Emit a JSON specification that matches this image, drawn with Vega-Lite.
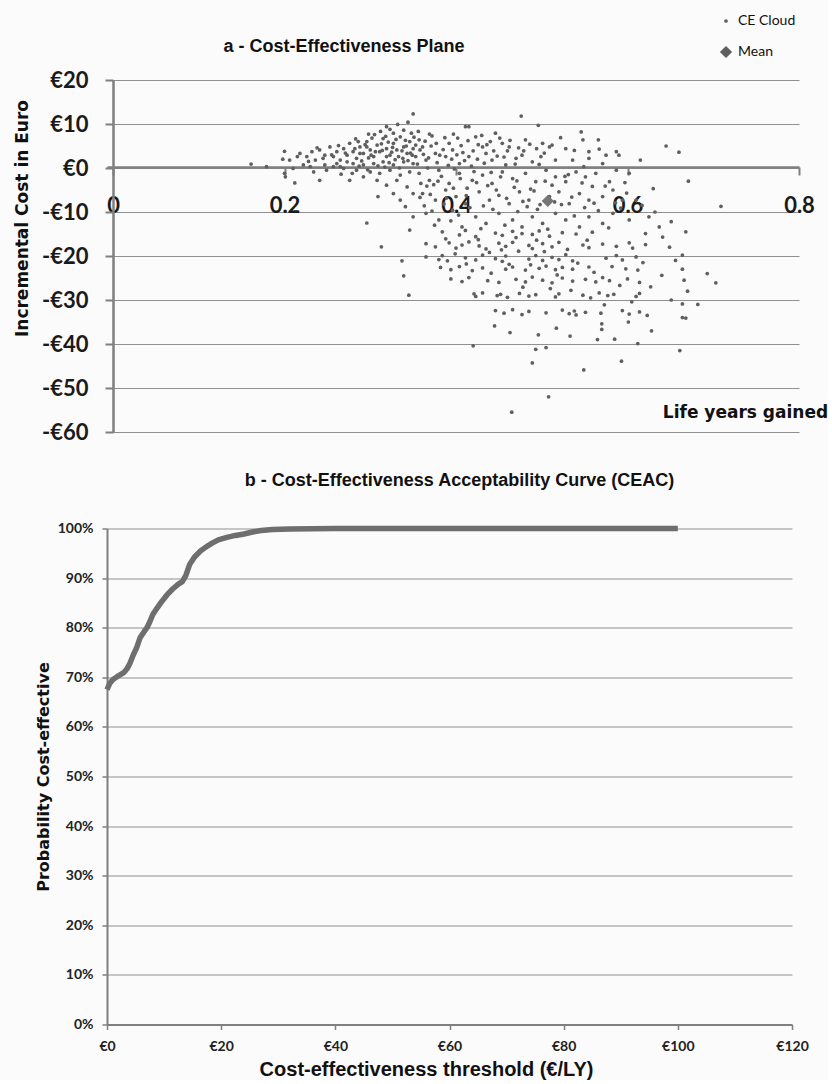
{
"$schema": "https://vega.github.io/schema/vega-lite/v6.json",
"background": "#fbfbfb",
"padding": {"left": 13, "top": 14, "right": 0, "bottom": 0},
"autosize": {"type": "pad"},
"spacing": 28.5,
"config": {
  "view": {"stroke": null},
  "font": "Liberation Sans",
  "axis": {"gridColor": "#8f8f8f", "gridWidth": 1, "domainColor": "#7f7f7f", "tickColor": "#7f7f7f", "labelColor": "#1a1a1a", "titleColor": "#111111"}
},
"vconcat": [
{
  "width": 692, "height": 352,
  "title": {"text": "a - Cost-Effectiveness Plane", "frame": "group", "anchor": "middle", "dx": -109, "offset": 13, "fontSize": 18, "font": "Liberation Sans", "fontWeight": "bold", "color": "#111111"},
  "layer": [
    {
      "data": {"values": [
{"x":0.161,"y":0.9},{"x":0.179,"y":0.3},{"x":0.200,"y":3.8},{"x":0.198,"y":2.0},{"x":0.200,"y":-1.2},{"x":0.201,"y":-2.0},{"x":0.212,"y":-3.4},{"x":0.234,"y":-0.9},{"x":0.241,"y":-2.8},{"x":0.266,"y":-1.4},{"x":0.279,"y":-1.2},{"x":0.319,"y":9.4},{"x":0.298,"y":7.7},{"x":0.296,"y":-12.5},{"x":0.309,"y":-6.5},
{"x":0.218,"y":3.3},{"x":0.226,"y":2.6},{"x":0.232,"y":3.7},{"x":0.236,"y":1.8},{"x":0.241,"y":4.1},{"x":0.247,"y":2.9},{"x":0.253,"y":4.8},{"x":0.257,"y":2.6},{"x":0.261,"y":3.7},{"x":0.265,"y":1.8},{"x":0.269,"y":4.4},{"x":0.273,"y":2.9},{"x":0.276,"y":5.6},{"x":0.280,"y":3.7},{"x":0.284,"y":2.2},{"x":0.288,"y":4.8},{"x":0.292,"y":3.3},{"x":0.296,"y":6.0},{"x":0.300,"y":4.1},{"x":0.304,"y":2.6},{"x":0.308,"y":5.2},{"x":0.311,"y":3.7},{"x":0.315,"y":6.7},{"x":0.319,"y":4.4},{"x":0.323,"y":2.9},{"x":0.327,"y":5.6},{"x":0.331,"y":4.1},{"x":0.335,"y":7.1},{"x":0.339,"y":4.8},{"x":0.343,"y":3.3},{"x":0.346,"y":6.0},{"x":0.350,"y":4.4},
{"x":0.280,"y":1.0},{"x":0.292,"y":0.7},{"x":0.304,"y":1.0},{"x":0.315,"y":1.4},{"x":0.327,"y":0.7},{"x":0.339,"y":1.4},{"x":0.350,"y":1.0},
{"x":0.257,"y":0.3},{"x":0.269,"y":-0.1},{"x":0.284,"y":-0.5},{"x":0.300,"y":-0.9},{"x":0.311,"y":-1.2},{"x":0.323,"y":-0.5},{"x":0.335,"y":-1.6},{"x":0.346,"y":-0.9},{"x":0.331,"y":-2.8},{"x":0.343,"y":-4.3},{"x":0.319,"y":-3.9},{"x":0.350,"y":-5.8},{"x":0.335,"y":-7.3},{"x":0.327,"y":-5.8},{"x":0.341,"y":-8.8},{"x":0.350,"y":-11.1},{"x":0.308,"y":-2.8},{"x":0.292,"y":-2.0},{"x":0.276,"y":-2.8},{"x":0.265,"y":0.3},{"x":0.249,"y":-0.5},{"x":0.247,"y":0.7},{"x":0.230,"y":0.3},{"x":0.222,"y":0.7},{"x":0.206,"y":1.8},{"x":0.210,"y":-0.1},{"x":0.327,"y":7.9},{"x":0.339,"y":8.6},{"x":0.348,"y":7.9},{"x":0.296,"y":4.8},{"x":0.282,"y":4.4},{"x":0.306,"y":3.7},{"x":0.333,"y":2.6},{"x":0.319,"y":2.6},{"x":0.288,"y":3.3},{"x":0.261,"y":1.0},{"x":0.273,"y":1.4},
{"x":0.313,"y":-17.9},{"x":0.337,"y":-21.1},{"x":0.339,"y":-24.5},{"x":0.345,"y":-28.9},{"x":0.346,"y":-14.1},
{"x":0.476,"y":11.8},{"x":0.496,"y":9.7},{"x":0.411,"y":9.4},{"x":0.415,"y":9.4},{"x":0.369,"y":7.7},{"x":0.546,"y":8.2},{"x":0.566,"y":6.4},{"x":0.350,"y":12.3},
{"x":0.357,"y":6.4},{"x":0.361,"y":4.8},{"x":0.392,"y":5.6},{"x":0.396,"y":4.1},{"x":0.423,"y":7.1},{"x":0.431,"y":4.8},{"x":0.446,"y":7.9},{"x":0.454,"y":5.6},{"x":0.462,"y":4.8},{"x":0.481,"y":6.4},{"x":0.501,"y":5.6},{"x":0.509,"y":4.8},{"x":0.512,"y":5.2},{"x":0.528,"y":4.4},{"x":0.548,"y":6.4},{"x":0.555,"y":3.7},{"x":0.575,"y":2.9},{"x":0.587,"y":3.7},{"x":0.645,"y":5.0},{"x":0.660,"y":3.6},
{"x":0.353,"y":2.6},{"x":0.365,"y":1.8},{"x":0.376,"y":3.3},{"x":0.388,"y":2.6},{"x":0.404,"y":1.0},{"x":0.415,"y":2.6},{"x":0.435,"y":3.3},{"x":0.442,"y":1.8},{"x":0.458,"y":0.7},{"x":0.470,"y":2.2},{"x":0.477,"y":2.9},{"x":0.489,"y":1.4},{"x":0.499,"y":2.6},{"x":0.516,"y":1.8},{"x":0.536,"y":1.8},{"x":0.555,"y":2.2},{"x":0.571,"y":1.0},{"x":0.590,"y":2.9},{"x":0.549,"y":0.3},
{"x":0.357,"y":-1.2},{"x":0.369,"y":-2.8},{"x":0.380,"y":-0.5},{"x":0.392,"y":-3.5},{"x":0.404,"y":-1.2},{"x":0.419,"y":-2.8},{"x":0.431,"y":-1.6},{"x":0.442,"y":-3.5},{"x":0.454,"y":-0.9},{"x":0.466,"y":-2.4},{"x":0.481,"y":-1.2},{"x":0.493,"y":-3.1},{"x":0.505,"y":-0.5},{"x":0.516,"y":-2.0},{"x":0.528,"y":-3.1},{"x":0.540,"y":-0.9},{"x":0.551,"y":-2.0},{"x":0.563,"y":-1.2},{"x":0.579,"y":-3.1},{"x":0.587,"y":-0.5},{"x":0.602,"y":-1.2},{"x":0.671,"y":-3.0},
{"x":0.361,"y":-5.8},{"x":0.376,"y":-7.3},{"x":0.388,"y":-5.0},{"x":0.400,"y":-6.5},{"x":0.411,"y":-8.1},{"x":0.427,"y":-5.4},{"x":0.439,"y":-7.3},{"x":0.450,"y":-6.2},{"x":0.462,"y":-8.1},{"x":0.474,"y":-5.4},{"x":0.485,"y":-7.3},{"x":0.509,"y":-6.5},{"x":0.520,"y":-5.4},{"x":0.532,"y":-8.1},{"x":0.544,"y":-5.8},{"x":0.555,"y":-7.3},{"x":0.571,"y":-6.5},{"x":0.583,"y":-5.0},{"x":0.594,"y":-7.3},{"x":0.610,"y":-7.3},{"x":0.709,"y":-8.7},
{"x":0.365,"y":-10.3},{"x":0.380,"y":-11.8},{"x":0.396,"y":-9.6},{"x":0.407,"y":-13.4},{"x":0.423,"y":-11.1},{"x":0.435,"y":-12.6},{"x":0.450,"y":-10.3},{"x":0.466,"y":-11.8},{"x":0.477,"y":-13.4},{"x":0.489,"y":-11.1},{"x":0.501,"y":-12.6},{"x":0.516,"y":-10.3},{"x":0.528,"y":-11.8},{"x":0.544,"y":-13.4},{"x":0.555,"y":-11.1},{"x":0.571,"y":-12.6},{"x":0.583,"y":-10.3},{"x":0.602,"y":-11.8},{"x":0.625,"y":-11.1},{"x":0.637,"y":-13.4},
{"x":0.384,"y":-14.5},{"x":0.404,"y":-15.2},{"x":0.411,"y":-14.2},{"x":0.423,"y":-15.6},{"x":0.446,"y":-14.8},{"x":0.454,"y":-15.3},{"x":0.466,"y":-14.4},{"x":0.470,"y":-15.8},{"x":0.477,"y":-14.9},{"x":0.489,"y":-15.1},{"x":0.497,"y":-14.3},{"x":0.509,"y":-15.5},{"x":0.524,"y":-14.7},{"x":0.540,"y":-15.0},{"x":0.559,"y":-14.6},{"x":0.621,"y":-14.9},{"x":0.668,"y":-14.5},
{"x":0.365,"y":-17.2},{"x":0.376,"y":-17.9},{"x":0.392,"y":-17.0},{"x":0.400,"y":-18.2},{"x":0.407,"y":-17.5},{"x":0.415,"y":-16.8},{"x":0.427,"y":-17.7},{"x":0.435,"y":-18.4},{"x":0.450,"y":-17.1},{"x":0.458,"y":-17.8},{"x":0.466,"y":-16.9},{"x":0.485,"y":-17.6},{"x":0.489,"y":-18.3},{"x":0.501,"y":-17.2},{"x":0.512,"y":-17.9},{"x":0.520,"y":-16.9},{"x":0.548,"y":-17.5},{"x":0.555,"y":-18.1},{"x":0.571,"y":-17.3},{"x":0.587,"y":-17.8},{"x":0.602,"y":-17.0},{"x":0.606,"y":-18.2},{"x":0.621,"y":-17.4},{"x":0.641,"y":-15.7},{"x":0.649,"y":-18.0},
{"x":0.365,"y":-20.2},{"x":0.380,"y":-20.8},{"x":0.384,"y":-19.9},{"x":0.390,"y":-21.1},{"x":0.411,"y":-20.4},{"x":0.423,"y":-20.9},{"x":0.431,"y":-19.8},{"x":0.446,"y":-20.6},{"x":0.454,"y":-21.2},{"x":0.458,"y":-20.0},{"x":0.485,"y":-20.7},{"x":0.493,"y":-19.9},{"x":0.501,"y":-21.0},{"x":0.512,"y":-20.3},{"x":0.520,"y":-20.8},{"x":0.528,"y":-19.7},{"x":0.536,"y":-21.1},{"x":0.575,"y":-20.5},{"x":0.587,"y":-19.9},{"x":0.594,"y":-20.9},{"x":0.610,"y":-20.2},{"x":0.656,"y":-21.0},{"x":0.664,"y":-19.8},
{"x":0.382,"y":-22.6},{"x":0.394,"y":-23.1},{"x":0.404,"y":-22.4},{"x":0.419,"y":-23.3},{"x":0.431,"y":-22.7},{"x":0.458,"y":-23.0},{"x":0.466,"y":-22.5},{"x":0.481,"y":-23.2},{"x":0.497,"y":-22.8},{"x":0.505,"y":-22.3},{"x":0.516,"y":-23.1},{"x":0.524,"y":-22.6},{"x":0.536,"y":-23.0},{"x":0.555,"y":-22.5},{"x":0.598,"y":-22.9},{"x":0.612,"y":-23.2},{"x":0.664,"y":-23.0},{"x":0.693,"y":-24.0},
{"x":0.394,"y":-25.2},{"x":0.407,"y":-25.8},{"x":0.415,"y":-24.9},{"x":0.437,"y":-25.6},{"x":0.450,"y":-26.0},{"x":0.470,"y":-25.3},{"x":0.481,"y":-25.9},{"x":0.489,"y":-24.8},{"x":0.501,"y":-25.5},{"x":0.512,"y":-26.1},{"x":0.524,"y":-25.0},{"x":0.536,"y":-25.7},{"x":0.551,"y":-25.3},{"x":0.563,"y":-25.9},{"x":0.571,"y":-24.9},{"x":0.579,"y":-25.6},{"x":0.600,"y":-25.2},{"x":0.614,"y":-26.0},{"x":0.666,"y":-25.5},{"x":0.703,"y":-26.1},
{"x":0.421,"y":-28.6},{"x":0.423,"y":-29.2},{"x":0.431,"y":-28.4},{"x":0.448,"y":-29.0},{"x":0.452,"y":-28.7},{"x":0.460,"y":-29.4},{"x":0.474,"y":-28.5},{"x":0.485,"y":-29.1},{"x":0.493,"y":-28.8},{"x":0.516,"y":-29.3},{"x":0.520,"y":-28.6},{"x":0.548,"y":-28.9},{"x":0.557,"y":-29.5},{"x":0.567,"y":-28.4},{"x":0.577,"y":-29.0},{"x":0.584,"y":-28.7},{"x":0.610,"y":-29.2},{"x":0.614,"y":-28.5},{"x":0.664,"y":-30.9},{"x":0.670,"y":-28.0},{"x":0.682,"y":-31.0},
{"x":0.446,"y":-32.4},{"x":0.456,"y":-33.0},{"x":0.466,"y":-32.2},{"x":0.477,"y":-33.3},{"x":0.485,"y":-32.6},{"x":0.505,"y":-32.9},{"x":0.524,"y":-32.3},{"x":0.532,"y":-33.1},{"x":0.538,"y":-32.5},{"x":0.540,"y":-33.4},{"x":0.551,"y":-32.8},{"x":0.569,"y":-33.0},{"x":0.594,"y":-32.4},{"x":0.602,"y":-33.2},{"x":0.614,"y":-32.7},{"x":0.623,"y":-33.5},{"x":0.664,"y":-34.0},{"x":0.668,"y":-34.1},
{"x":0.445,"y":-35.9},{"x":0.496,"y":-37.9},{"x":0.565,"y":-39.0},{"x":0.570,"y":-36.7},{"x":0.570,"y":-35.4},{"x":0.601,"y":-35.0},{"x":0.420,"y":-40.4},{"x":0.489,"y":-44.3},{"x":0.493,"y":-41.2},{"x":0.505,"y":-40.8},{"x":0.549,"y":-45.9},{"x":0.593,"y":-43.9},{"x":0.612,"y":-39.9},{"x":0.661,"y":-41.5},{"x":0.508,"y":-52.0},{"x":0.465,"y":-55.5},
{"x":0.362,"y":3.1},{"x":0.371,"y":5.0},{"x":0.378,"y":1.2},{"x":0.385,"y":4.2},{"x":0.395,"y":2.0},{"x":0.402,"y":6.8},{"x":0.408,"y":3.5},{"x":0.418,"y":0.4},{"x":0.426,"y":5.3},{"x":0.433,"y":1.1},{"x":0.440,"y":6.0},{"x":0.448,"y":2.7},{"x":0.356,"y":8.3},{"x":0.367,"y":0.0},{"x":0.374,"y":-3.8},{"x":0.383,"y":-1.9},{"x":0.398,"y":-0.2},{"x":0.413,"y":-4.6},{"x":0.421,"y":-0.8},{"x":0.437,"y":-4.0},{"x":0.452,"y":-2.0},{"x":0.460,"y":3.9},{"x":0.468,"y":-4.4},{"x":0.473,"y":4.6},{"x":0.491,"y":-5.2},{"x":0.497,"y":0.8},{"x":0.503,"y":3.4},{"x":0.512,"y":-3.9},{"x":0.522,"y":6.9},{"x":0.531,"y":-1.5},{"x":0.538,"y":4.0},{"x":0.559,"y":-4.2},{"x":0.567,"y":4.3},{"x":0.597,"y":-3.3},{"x":0.615,"y":1.8},{"x":0.630,"y":-4.7},{"x":0.359,"y":-3.5},{"x":0.363,"y":-8.6},{"x":0.372,"y":-9.8},{"x":0.386,"y":-8.2},{"x":0.394,"y":-12.0},{"x":0.403,"y":-10.7},{"x":0.416,"y":-9.0},{"x":0.429,"y":-13.8},{"x":0.443,"y":-9.4},{"x":0.457,"y":-13.0},{"x":0.472,"y":-9.9},{"x":0.483,"y":-8.8},{"x":0.495,"y":-9.4},{"x":0.507,"y":-13.9},{"x":0.523,"y":-8.3},{"x":0.538,"y":-10.9},{"x":0.550,"y":-9.0},{"x":0.566,"y":-9.7},{"x":0.578,"y":-13.6},{"x":0.592,"y":-9.1},{"x":0.617,"y":-8.5},{"x":0.632,"y":-10.0},{"x":0.651,"y":-12.2},
{"x":0.302,"y":6.8},{"x":0.313,"y":5.5},{"x":0.317,"y":0.2},{"x":0.321,"y":5.9},{"x":0.325,"y":3.6},{"x":0.329,"y":1.9},{"x":0.337,"y":3.9},{"x":0.341,"y":6.3},{"x":0.344,"y":1.7},{"x":0.349,"y":2.9},{"x":0.353,"y":5.2},{"x":0.286,"y":6.0},{"x":0.290,"y":1.6},{"x":0.298,"y":2.3},{"x":0.312,"y":8.3},{"x":0.323,"y":8.8},{"x":0.332,"y":9.9},{"x":0.344,"y":10.4},{"x":0.271,"y":3.4},{"x":0.263,"y":5.1},{"x":0.255,"y":3.0},{"x":0.245,"y":2.2},{"x":0.238,"y":4.6},{"x":0.228,"y":1.5},{"x":0.215,"y":2.6},
{"x":0.283,"y":6.6},{"x":0.287,"y":0.4},{"x":0.294,"y":5.3},{"x":0.297,"y":-0.4},{"x":0.301,"y":2.9},{"x":0.305,"y":7.6},{"x":0.309,"y":0.5},{"x":0.314,"y":4.0},{"x":0.318,"y":7.2},{"x":0.322,"y":1.2},{"x":0.326,"y":4.7},{"x":0.330,"y":6.5},{"x":0.334,"y":0.0},{"x":0.338,"y":2.2},{"x":0.342,"y":5.0},{"x":0.347,"y":3.4},{"x":0.351,"y":7.0},{"x":0.355,"y":0.9},{"x":0.358,"y":4.1},{"x":0.364,"y":6.1},{"x":0.368,"y":2.3},{"x":0.372,"y":7.3},{"x":0.377,"y":5.6},{"x":0.381,"y":2.9},{"x":0.387,"y":6.9},{"x":0.391,"y":0.6},{"x":0.397,"y":7.7},{"x":0.401,"y":3.0},{"x":0.406,"y":5.1},{"x":0.410,"y":1.7},{"x":0.414,"y":6.2},{"x":0.420,"y":3.9},{"x":0.425,"y":2.0},{"x":0.430,"y":7.4},{"x":0.436,"y":5.3},{"x":0.444,"y":3.9},{"x":0.451,"y":6.8},{"x":0.456,"y":2.5},{"x":0.463,"y":6.3},{"x":0.469,"y":0.9},{"x":0.479,"y":3.9},{"x":0.486,"y":5.4},{"x":0.494,"y":4.4},
{"x":0.358,"y":-6.7},{"x":0.366,"y":-4.1},{"x":0.370,"y":-6.0},{"x":0.379,"y":-3.0},{"x":0.389,"y":-6.8},{"x":0.397,"y":-4.6},{"x":0.405,"y":-2.4},{"x":0.412,"y":-6.3},{"x":0.424,"y":-3.3},{"x":0.432,"y":-8.6},{"x":0.441,"y":-1.0},{"x":0.447,"y":-5.0},{"x":0.459,"y":-6.9},{"x":0.471,"y":-2.9},{"x":0.478,"y":-7.6},{"x":0.487,"y":-4.8},{"x":0.498,"y":-8.3},{"x":0.504,"y":-3.0},{"x":0.515,"y":-7.7},{"x":0.527,"y":-1.9},{"x":0.535,"y":-6.6},{"x":0.547,"y":-3.4},{"x":0.561,"y":-8.0},{"x":0.574,"y":-4.1},{"x":0.586,"y":-7.9},{"x":0.599,"y":-5.7},
{"x":0.375,"y":-13.0},{"x":0.388,"y":-16.1},{"x":0.399,"y":-19.5},{"x":0.412,"y":-21.8},{"x":0.426,"y":-16.3},{"x":0.439,"y":-19.2},{"x":0.441,"y":-23.9},{"x":0.453,"y":-18.6},{"x":0.462,"y":-21.9},{"x":0.473,"y":-18.9},{"x":0.478,"y":-27.1},{"x":0.487,"y":-22.0},{"x":0.494,"y":-16.4},{"x":0.503,"y":-19.0},{"x":0.510,"y":-27.4},{"x":0.518,"y":-24.3},{"x":0.530,"y":-18.5},{"x":0.534,"y":-27.8},{"x":0.542,"y":-21.6},{"x":0.553,"y":-16.4},{"x":0.561,"y":-23.7},{"x":0.573,"y":-31.1},{"x":0.582,"y":-22.4},{"x":0.591,"y":-26.7},{"x":0.605,"y":-30.4},{"x":0.618,"y":-21.5},{"x":0.627,"y":-27.0},{"x":0.640,"y":-24.4},{"x":0.651,"y":-30.0},{"x":0.463,"y":-37.4},{"x":0.517,"y":-36.4},{"x":0.533,"y":-38.2},{"x":0.585,"y":-38.9},{"x":0.628,"y":-37.0}
      ]},
      "mark": {"type": "point", "filled": true, "color": "#5f5f5f", "opacity": 1},
      "encoding": {
        "x": {"field": "x", "type": "quantitative",
              "scale": {"domain": [-0.007, 0.8], "nice": false, "zero": false},
              "axis": {"values": [0, 0.2, 0.4, 0.6, 0.8], "offset": -265, "grid": false, "domainWidth": 2.5, "tickSize": 8, "tickWidth": 2,
                       "labelPadding": 20, "labelFont": "Lato", "labelFontSize": 22, "labelFontWeight": "bold", "labelFlush": false, "labelOverlap": false,
                       "labelExpr": "datum.value == 0 ? '0' : format(datum.value, '.1f')",
                       "title": "Life years gained", "titleFont": "DejaVu Sans", "titleFontSize": 17, "titleFontWeight": "bold",
                       "titleX": 638, "titleY": 245, "titleAlign": "center", "titleBaseline": "middle"}},
        "y": {"field": "y", "type": "quantitative",
              "scale": {"domain": [-60, 20], "nice": false},
              "axis": {"values": [-60, -50, -40, -30, -20, -10, 0, 10, 20], "offset": -6, "grid": true, "domainWidth": 2.5, "tickSize": 8, "tickWidth": 2,
                       "labelPadding": 17, "labelFont": "Lato", "labelFontSize": 22, "labelFontWeight": "bold",
                       "labelExpr": "datum.value < 0 ? '-€' + abs(datum.value) : '€' + datum.value",
                       "title": "Incremental Cost in Euro", "titleFont": "DejaVu Sans", "titleFontSize": 17, "titleFontWeight": "bold",
                       "titleX": -91, "titleY": 138, "titleBaseline": "middle"}},
        "shape": {"datum": "CE Cloud",
                  "scale": {"domain": ["CE Cloud", "Mean"], "range": ["circle", "diamond"]},
                  "legend": {"orient": "none", "legendX": 612, "legendY": -66, "title": null, "padding": 0,
                             "labelFont": "Lato", "labelFontSize": 14, "labelColor": "#111111", "labelOffset": 5,
                             "symbolFillColor": "#666666", "symbolStrokeColor": "#666666", "symbolStrokeWidth": 0, "rowPadding": 17}},
        "size": {"datum": "CE Cloud", "type": "ordinal",
                 "scale": {"type": "point", "domain": ["CE Cloud", "Mean"], "range": [14, 150], "padding": 0},
                 "legend": {"orient": "none", "legendX": 612, "legendY": -66, "title": null, "padding": 0,
                            "labelFont": "Lato", "labelFontSize": 14, "labelColor": "#111111", "labelOffset": 5,
                            "symbolFillColor": "#666666", "symbolStrokeColor": "#666666", "symbolStrokeWidth": 0, "rowPadding": 17}}
      }
    },
    {
      "data": {"values": [{"x": 0.507, "y": -7.5}]},
      "mark": {"type": "point", "filled": true, "color": "#777777", "opacity": 1},
      "encoding": {
        "x": {"field": "x", "type": "quantitative"},
        "y": {"field": "y", "type": "quantitative"},
        "shape": {"datum": "Mean"},
        "size": {"datum": "Mean", "type": "ordinal"}
      }
    }
  ]
},
{
  "width": 685, "height": 496,
  "title": {"text": "b - Cost-Effectiveness Acceptability Curve (CEAC)", "frame": "group", "anchor": "middle", "dx": 10, "offset": 31.5, "fontSize": 18, "font": "Liberation Sans", "fontWeight": "bold", "color": "#111111"},
  "data": {"values": [
    {"threshold": 0, "p": 0.675}, {"threshold": 0.5, "p": 0.688}, {"threshold": 1, "p": 0.695}, {"threshold": 2, "p": 0.703}, {"threshold": 3, "p": 0.71},
    {"threshold": 3.5, "p": 0.717}, {"threshold": 4, "p": 0.728}, {"threshold": 4.6, "p": 0.745}, {"threshold": 5.2, "p": 0.76}, {"threshold": 5.8, "p": 0.78},
    {"threshold": 6.5, "p": 0.792}, {"threshold": 7, "p": 0.8}, {"threshold": 7.5, "p": 0.812}, {"threshold": 8, "p": 0.826}, {"threshold": 8.8, "p": 0.84},
    {"threshold": 9.6, "p": 0.853}, {"threshold": 10.5, "p": 0.866}, {"threshold": 11.5, "p": 0.878}, {"threshold": 12.5, "p": 0.888}, {"threshold": 13.2, "p": 0.893},
    {"threshold": 13.8, "p": 0.905}, {"threshold": 14.5, "p": 0.928}, {"threshold": 15.3, "p": 0.942}, {"threshold": 16.3, "p": 0.954}, {"threshold": 17.5, "p": 0.964},
    {"threshold": 18.5, "p": 0.971}, {"threshold": 19.5, "p": 0.977}, {"threshold": 21, "p": 0.982}, {"threshold": 22.5, "p": 0.986}, {"threshold": 24, "p": 0.989},
    {"threshold": 25.5, "p": 0.993}, {"threshold": 27, "p": 0.996}, {"threshold": 29, "p": 0.998}, {"threshold": 32, "p": 0.999}, {"threshold": 40, "p": 1.0},
    {"threshold": 50, "p": 1.0}, {"threshold": 60, "p": 1.0}, {"threshold": 70, "p": 1.0}, {"threshold": 80, "p": 1.0}, {"threshold": 90, "p": 1.0}, {"threshold": 100, "p": 1.0}
  ]},
  "mark": {"type": "line", "strokeWidth": 5.5, "color": "#6e6e6e", "strokeCap": "butt", "strokeJoin": "round"},
  "encoding": {
    "x": {"field": "threshold", "type": "quantitative",
          "scale": {"domain": [0, 120], "nice": false},
          "axis": {"values": [0, 20, 40, 60, 80, 100, 120], "grid": false, "domainWidth": 2, "tickSize": 5, "tickWidth": 1.5,
                   "labelPadding": 10, "labelFont": "Lato", "labelFontSize": 14, "labelFontWeight": "bold", "labelColor": "#222222", "labelFlush": false,
                   "labelExpr": "'€' + datum.value",
                   "title": "Cost-effectiveness threshold (€/LY)", "titleFont": "Liberation Sans", "titleFontSize": 20, "titleFontWeight": "bold",
                   "titleX": 319, "titleY": 45, "titleAlign": "center", "titleBaseline": "middle"}},
    "y": {"field": "p", "type": "quantitative",
          "scale": {"domain": [0, 1], "nice": false},
          "axis": {"values": [0, 0.1, 0.2, 0.3, 0.4, 0.5, 0.6, 0.7, 0.8, 0.9, 1], "format": ".0%", "grid": true, "domainWidth": 2, "tickSize": 5, "tickWidth": 1.5,
                   "labelPadding": 9, "labelFont": "Lato", "labelFontSize": 14, "labelFontWeight": "bold", "labelColor": "#222222",
                   "title": "Probability Cost-effective", "titleFont": "DejaVu Sans", "titleFontSize": 16, "titleFontWeight": "bold",
                   "titleX": -64, "titleBaseline": "middle"}}
  }
}
]
}
